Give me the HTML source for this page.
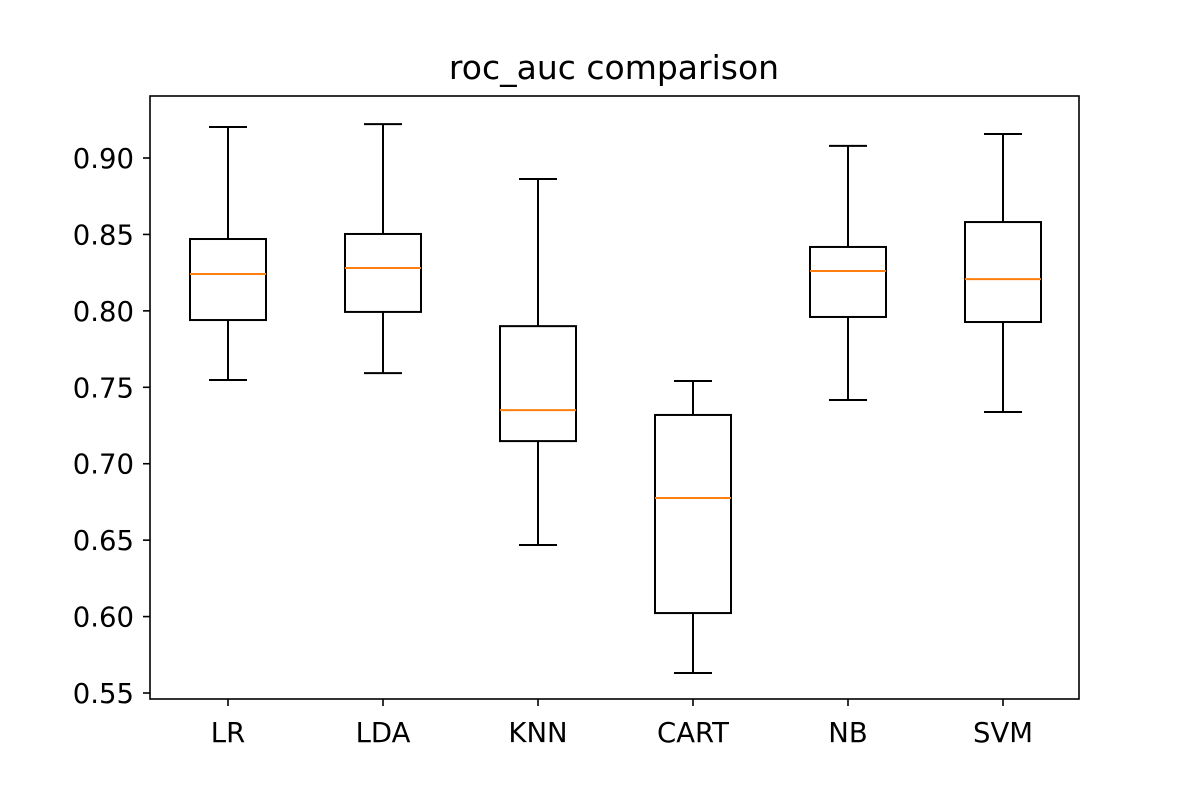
<!DOCTYPE html>
<html><head><meta charset="utf-8"><style>
body{margin:0;background:#fff;}
svg text{font-family:"DejaVu Sans","Liberation Sans",sans-serif;fill:#000;}
</style></head><body>
<svg id="chart" width="1200" height="800" xmlns="http://www.w3.org/2000/svg">
<rect width="1200" height="800" fill="#fff"/>
<text x="614" y="79" font-size="33" text-anchor="middle">roc_auc comparison</text>
<g id="marks"></g>
<rect x="150" y="96" width="929" height="603" fill="none" stroke="#000" stroke-width="1.6"/>
<g id="axes"></g>
</svg>
<script>
const categories = ["LR","LDA","KNN","CART","NB","SVM"];
const whiskerHigh = [0.9203,0.9222,0.8863,0.7541,0.9079,0.9157];
const q3Values = [0.847,0.8503,0.79,0.7319,0.8418,0.8581];
const medians = [0.8241,0.828,0.7351,0.6776,0.8261,0.8208];
const q1Values = [0.794,0.7993,0.7148,0.6023,0.796,0.7927];
const whiskerLow = [0.7548,0.7593,0.6468,0.5631,0.7417,0.7338];
const yTicks = [0.55,0.60,0.65,0.70,0.75,0.80,0.85,0.90];

const NS="http://www.w3.org/2000/svg";
function y(v){return 158+(0.90-v)/0.05*76.43;}
function x(i){return 228+i*155;}
function mk(tag,attrs,parent){const e=document.createElementNS(NS,tag);for(const k in attrs)e.setAttribute(k,attrs[k]);parent.appendChild(e);return e;}
const marks=document.getElementById('marks'), axes=document.getElementById('axes');
categories.forEach((c,i)=>{
  const cx=x(i), g=mk('g',{},marks);
  
  
  const s={stroke:'#000','stroke-width':2,fill:'none'};
  mk('line',Object.assign({x1:cx,x2:cx,y1:y(whiskerHigh[i]),y2:y(q3Values[i])},s),g);
  mk('line',Object.assign({x1:cx,x2:cx,y1:y(q1Values[i]),y2:y(whiskerLow[i])},s),g);
  mk('line',Object.assign({x1:cx-19,x2:cx+19,y1:y(whiskerHigh[i]),y2:y(whiskerHigh[i])},s),g);
  mk('line',Object.assign({x1:cx-19,x2:cx+19,y1:y(whiskerLow[i]),y2:y(whiskerLow[i])},s),g);
  mk('rect',Object.assign({x:cx-38,y:y(q3Values[i]),width:76,height:y(q1Values[i])-y(q3Values[i])},s),g);
  const m=mk('line',{x1:cx-38,x2:cx+38,y1:y(medians[i]),y2:y(medians[i]),stroke:'#ff7f0e','stroke-width':2},g);
  
  
  mk('line',{x1:cx,x2:cx,y1:699,y2:706,stroke:'#000','stroke-width':1.6},axes);
  const t=mk('text',{x:cx,y:742,'font-size':27.5,'text-anchor':'middle'},axes);
  t.textContent=c;
  
  
});
yTicks.forEach(v=>{
  const yy=y(v);
  mk('line',{x1:143,x2:150,y1:yy,y2:yy,stroke:'#000','stroke-width':1.6},axes);
  const t=mk('text',{x:134,y:yy+10,'font-size':27.5,'text-anchor':'end'},axes);
  t.textContent=v.toFixed(2);
  
  
});
</script>
</body></html>
